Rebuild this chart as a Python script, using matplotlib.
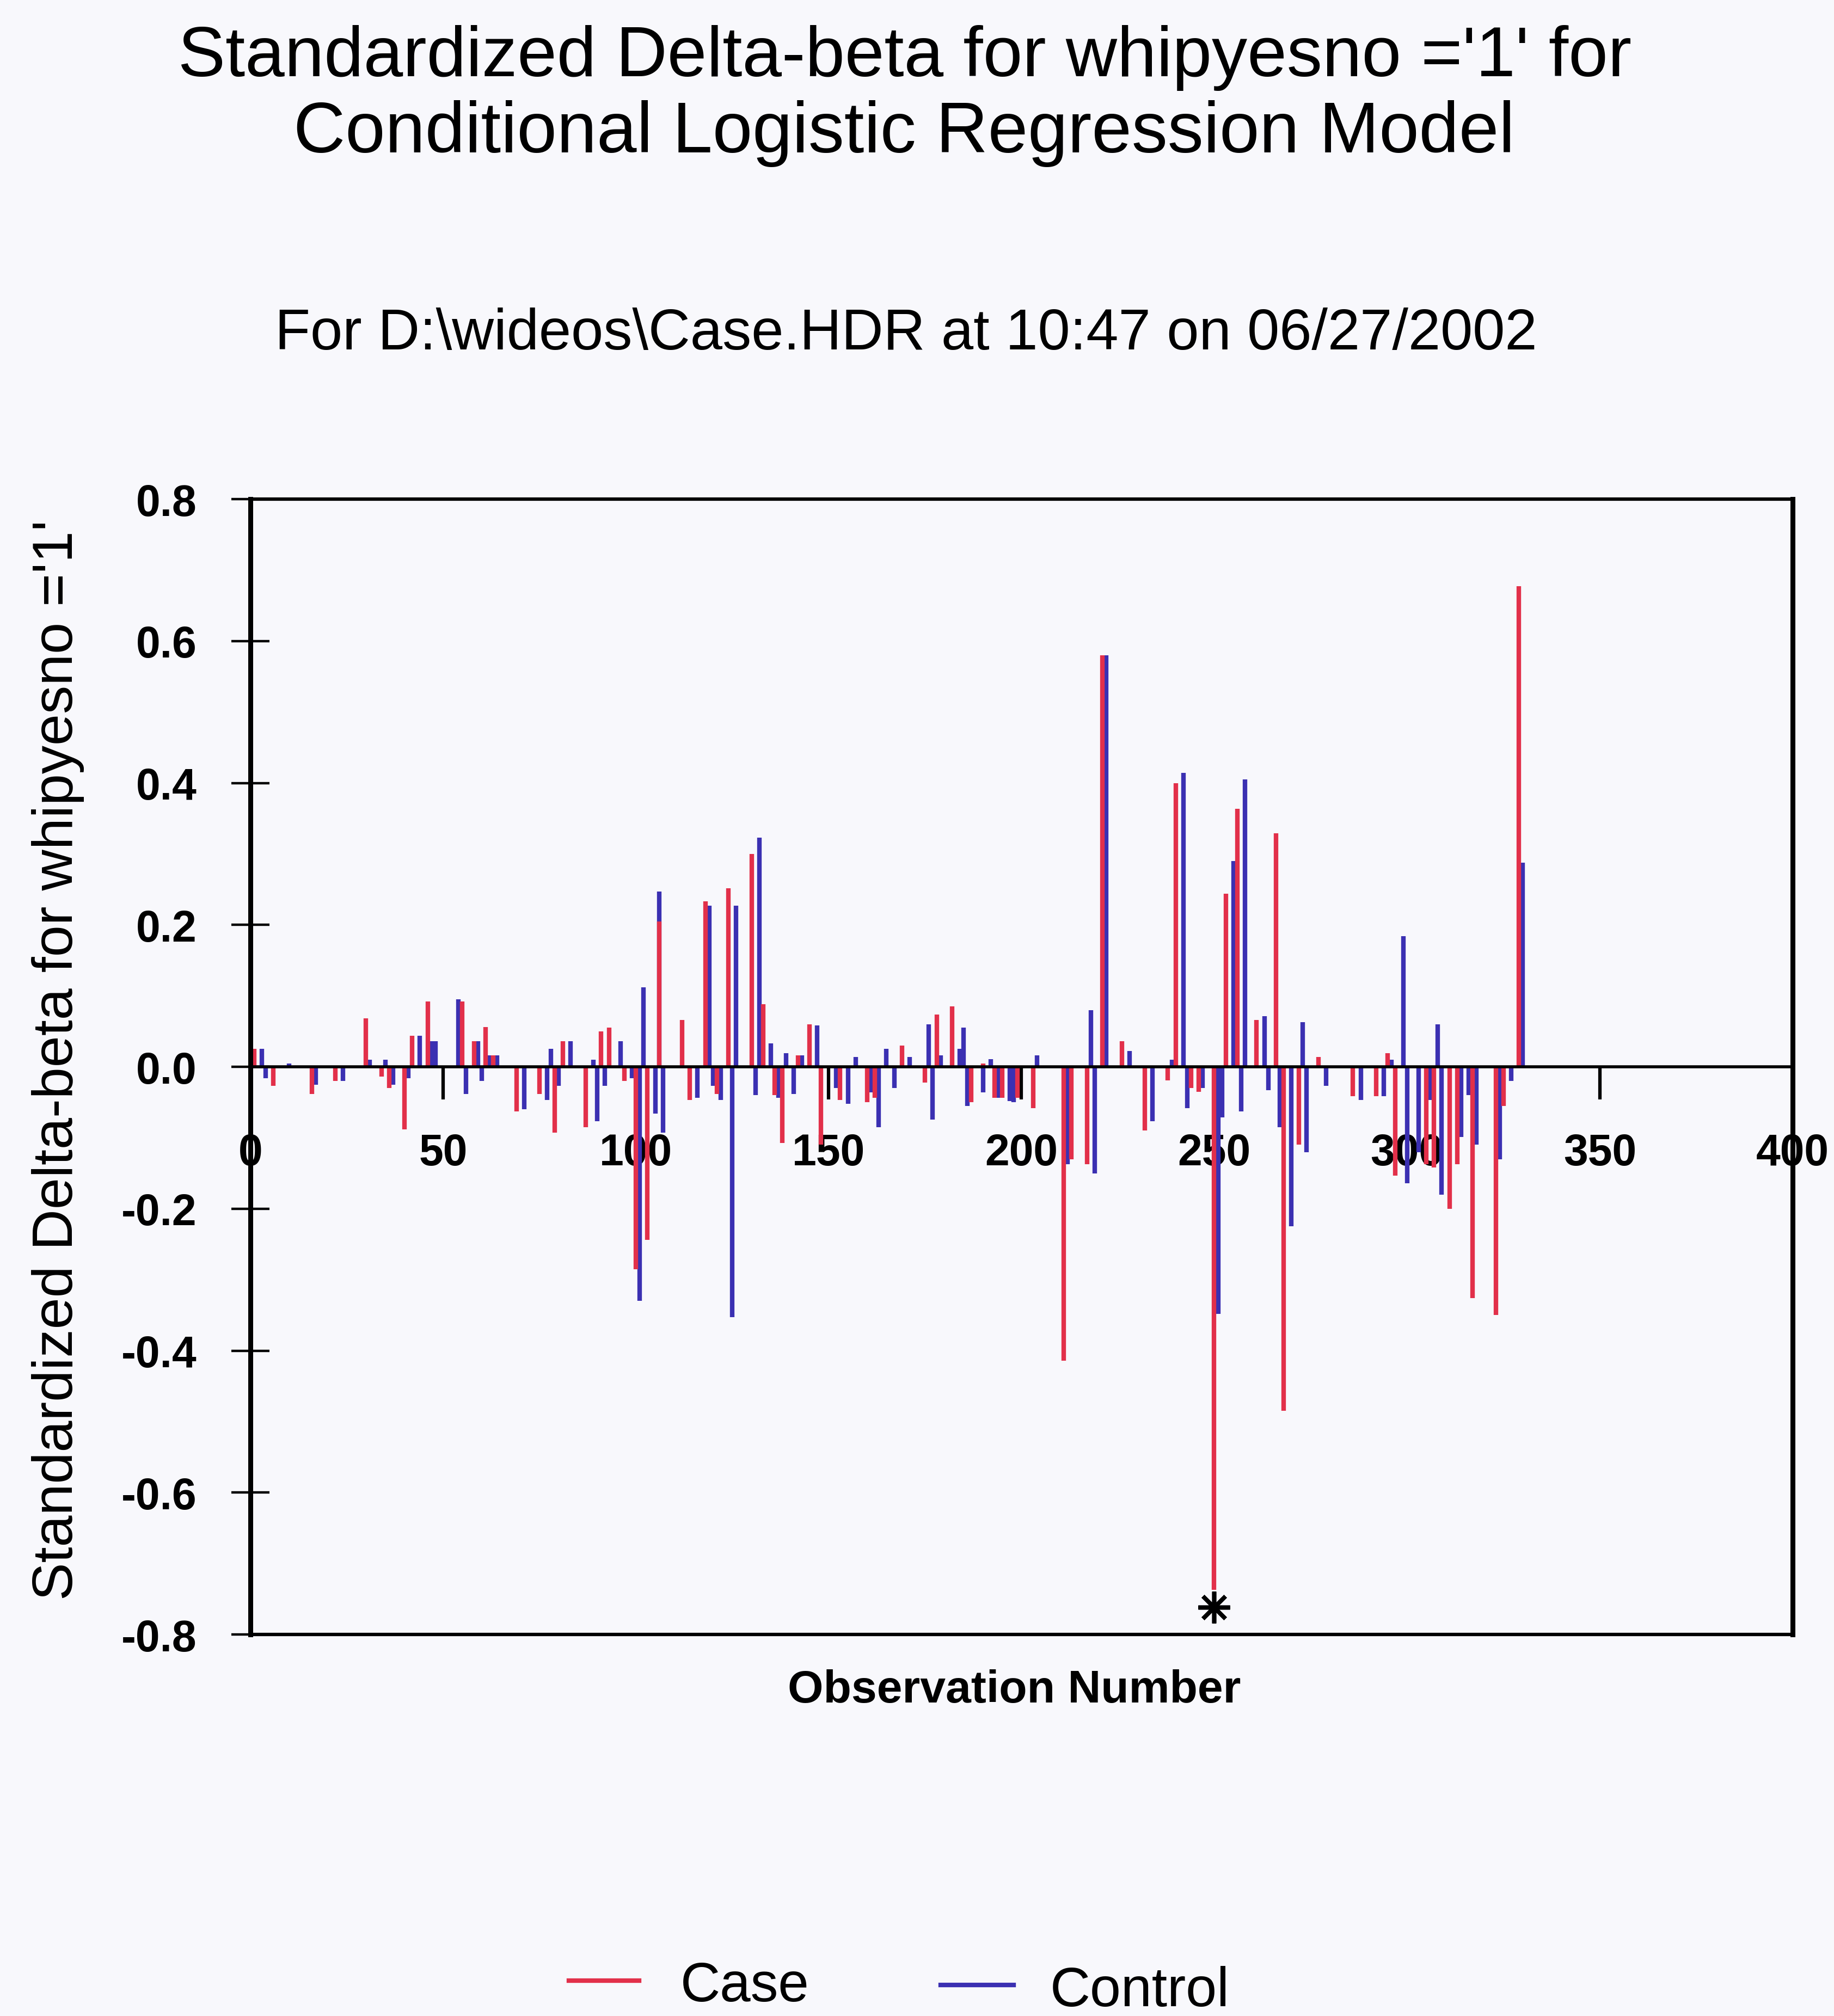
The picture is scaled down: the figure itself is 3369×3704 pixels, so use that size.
import matplotlib
matplotlib.use("Agg")
import matplotlib.pyplot as plt
from matplotlib.lines import Line2D

plt.rcParams['font.family'] = ['Liberation Sans', 'DejaVu Sans']
plt.rcParams['axes.unicode_minus'] = False

# ---------------- data ----------------
case_obs = [1, 6, 16, 22, 30, 34, 36, 40, 42, 46, 55, 58, 61, 63, 69, 75, 79, 81, 87, 91,
            93, 97, 100, 103, 106, 112, 114, 118, 121, 124, 130, 133, 136, 138, 142, 145,
            148, 153, 160, 162, 169, 175, 178, 182, 187, 190, 193, 195, 199, 203, 211, 213,
            217, 221, 226, 232, 238, 240, 244, 246, 250, 253, 256, 261, 266, 268, 272, 277,
            286, 292, 295, 297, 305, 307, 311, 313, 317, 323, 325, 329]
case_val = [0.025, -0.027, -0.038, -0.02, 0.068, -0.014, -0.03, -0.088, 0.044, 0.092,
            0.092, 0.036, 0.056, 0.016, -0.063, -0.038, -0.093, 0.036, -0.085, 0.05,
            0.055, -0.02, -0.285, -0.244, 0.205, 0.066, -0.047, 0.233, -0.038, 0.252,
            0.30, 0.088, -0.04, -0.107, 0.016, 0.06, -0.11, -0.047, -0.05, -0.044,
            0.03, -0.022, 0.074, 0.085, -0.05, 0.005, -0.044, -0.044, -0.044, -0.058,
            -0.414, -0.13, -0.137, 0.58, 0.036, -0.09, -0.019, 0.40, -0.03, -0.035,
            -0.737, 0.244, 0.364, 0.066, 0.329, -0.485, -0.11, 0.014, -0.041, -0.041,
            0.019, -0.153, -0.137, -0.142, -0.2, -0.137, -0.326, -0.35, -0.055, 0.677]

ctrl_obs = [3, 4, 10, 17, 24, 31, 35, 37, 41, 44, 47, 48, 54, 56, 59, 60, 62, 64, 71, 77,
            78, 80, 83, 89, 90, 92, 96, 99, 101, 102, 105, 106, 107, 116, 119, 120, 122,
            125, 126, 131, 132, 135, 137, 139, 141, 143, 147, 152, 155, 157, 161, 163, 165,
            167, 171, 176, 177, 179, 184, 185, 186, 190, 192, 194, 197, 198, 204, 212, 218,
            219, 222, 228, 234, 239, 242, 243, 247, 251, 252, 255, 257, 258, 263, 264, 267,
            270, 273, 274, 279, 288, 294, 296, 299, 300, 303, 306, 308, 309, 314, 316, 318,
            324, 327, 330]
ctrl_val = [0.025, -0.016, 0.005, -0.025, -0.02, 0.01, 0.01, -0.025, -0.016, 0.044,
            0.036, 0.036, 0.095, -0.038, 0.036, -0.02, 0.016, 0.016, -0.06, -0.047,
            0.025, -0.027, 0.036, 0.01, -0.077, -0.027, 0.036, -0.016, -0.33, 0.112,
            -0.066, 0.247, -0.093, -0.044, 0.227, -0.027, -0.047, -0.353, 0.227, -0.04,
            0.323, 0.033, -0.044, 0.019, -0.038, 0.016, 0.058, -0.03, -0.052, 0.014,
            -0.036, -0.085, 0.025, -0.03, 0.014, 0.06, -0.074, 0.016, 0.025, 0.055,
            -0.055, -0.036, 0.011, -0.044, -0.048, -0.05, 0.016, -0.137, 0.08, -0.15,
            0.58, 0.022, -0.077, 0.01, 0.414, -0.058, -0.03, -0.348, -0.071, 0.29,
            -0.063, 0.405, 0.071, -0.033, -0.085, -0.225, 0.063, -0.12, -0.027, -0.047,
            -0.041, 0.01, 0.184, -0.164, -0.12, -0.047, 0.06, -0.18, -0.099, -0.04,
            -0.11, -0.13, -0.02, 0.288]

star_obs = [250]
star_val = [-0.762]

x_ticks = [0, 50, 100, 150, 200, 250, 300, 350, 400]
y_ticks = [-0.8, -0.6, -0.4, -0.2, 0.0, 0.2, 0.4, 0.6, 0.8]
y_tick_labels = ['-0.8', '-0.6', '-0.4', '-0.2', '0.0', '0.2', '0.4', '0.6', '0.8']

title1 = "Standardized Delta-beta for whipyesno ='1' for"
title2 = "Conditional Logistic Regression Model"
subtitle = "For D:\\wideos\\Case.HDR at 10:47 on 06/27/2002"
y_label = "Standardized Delta-beta for whipyesno ='1'"
x_label = "Observation Number"
legend_labels = ["Case", "Control"]

RED = '#E2304A'
BLUE = '#3B30B2'
BG = '#F8F8FC'

# ---------------- figure ----------------
W, H = 3369, 3705
fig = plt.figure(figsize=(W / 100, H / 100), dpi=100, facecolor=BG)
ax = fig.add_axes([0.1365, 0.1892, 0.9774 - 0.1365, 0.7522 - 0.1892])
ax.set_facecolor(BG)

ax.vlines(ctrl_obs, 0, ctrl_val, colors=BLUE, lw=6, zorder=2)
ax.vlines(case_obs, 0, case_val, colors=RED, lw=6, zorder=2.1)
ax.plot(star_obs, star_val, linestyle='none', marker=(8, 2, 0), ms=42, mew=5.5,
        color='k', clip_on=False, zorder=3)

ax.set_xlim(0, 400)
ax.set_ylim(-0.8, 0.8)

# spines
ax.spines['bottom'].set_position(('data', 0))
ax.spines['bottom'].set_linewidth(4)
ax.spines['left'].set_linewidth(6.5)
ax.spines['right'].set_linewidth(6.5)
ax.spines['top'].set_linewidth(4.5)
ax.plot([0, 1], [0, 0], transform=ax.transAxes, color='k', lw=4.5,
        clip_on=False, zorder=2.6, solid_capstyle='butt')

ax.set_xticks(x_ticks)
ax.set_xticklabels([str(v) for v in x_ticks])
ax.set_yticks(y_ticks)
ax.set_yticklabels(y_tick_labels)
ax.tick_params(axis='x', direction='out', length=43, width=4.5, pad=44,
               labelsize=58, colors='k')
ax.tick_params(axis='y', direction='inout', length=50, width=3.2, pad=46,
               labelsize=58, colors='k')
for lab in ax.get_xticklabels() + ax.get_yticklabels():
    lab.set_fontweight('bold')

# ---------------- texts ----------------
def fit(t, target, vertical=False):
    r = fig.canvas.get_renderer()
    bb = t.get_window_extent(renderer=r)
    cur = bb.height if vertical else bb.width
    t.set_fontsize(t.get_fontsize() * target / cur)

t1 = fig.text(0.4933, 0.9622, title1, ha='center', va='baseline', fontsize=94)
t2 = fig.text(0.4931, 0.9244, title2, ha='center', va='baseline', fontsize=94)
t3 = fig.text(0.4939, 0.8267, subtitle, ha='center', va='baseline', fontsize=77)
tx = fig.text(0.553, 0.1557, x_label, ha='center', va='baseline', fontsize=60,
              fontweight='bold')
ty = fig.text(0.0315, 0.4742, y_label, ha='center', va='center', rotation=90,
              fontsize=70)

fig.add_artist(Line2D([0.3102, 0.3485], [0.0175, 0.0175], color=RED, lw=6,
                      transform=fig.transFigure))
fig.add_artist(Line2D([0.5129, 0.5527], [0.0154, 0.0154], color=BLUE, lw=6,
                      transform=fig.transFigure))
lc = fig.text(0.371, 0.0076, legend_labels[0], ha='left', va='baseline', fontsize=74)
lk = fig.text(0.5726, 0.0050, legend_labels[1], ha='left', va='baseline', fontsize=74)

fig.canvas.draw()
fit(t1, 2669)
fit(t2, 2241)
fit(t3, 2320)
fit(tx, 832)
fit(ty, 1985, vertical=True)
fit(lc, 237)
fit(lk, 330)

fig.savefig('out.png', dpi=100, facecolor=BG)
